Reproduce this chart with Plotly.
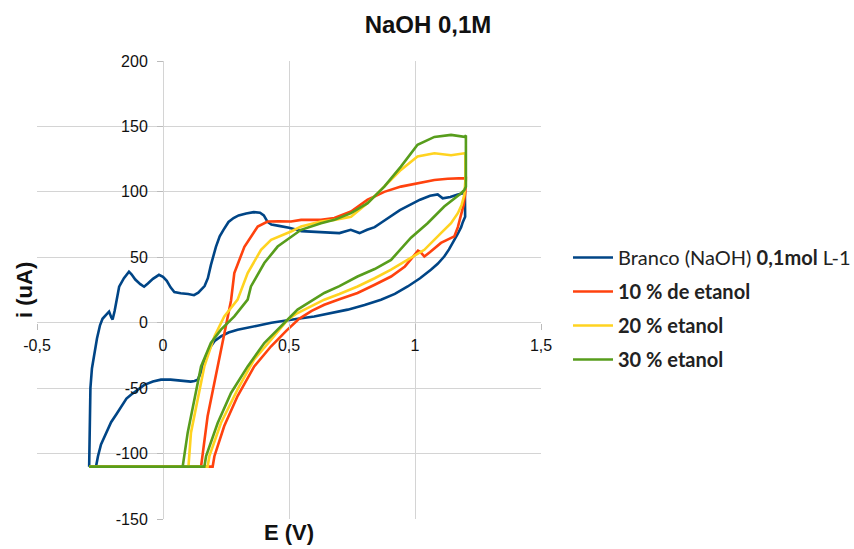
import plotly.graph_objects as go

# ---- tick labels ----
x_ticks = [-0.5, 0, 0.5, 1, 1.5]
x_labels = ["-0,5", "0", "0,5", "1", "1,5"]
y_ticks = [-150, -100, -50, 0, 50, 100, 150, 200]
y_labels = ["-150", "-100", "-50", "0", "50", "100", "150", "200"]

series_names = ["Branco (NaOH) <b>0,1mol</b> L-1", "<b>10 % de etanol</b>",
                "<b>20 % etanol</b>", "<b>30 % etanol</b>"]
series_colors = ["#004586", "#ff420e", "#ffd320", "#579d1c"]

# ---- Branco (NaOH) ----
E_branco = [-0.293, -0.291, -0.288, -0.282, -0.272, -0.262, -0.25, -0.24, -0.226, -0.214,
            -0.205, -0.2, -0.192, -0.186, -0.174, -0.155, -0.135, -0.125, -0.11, -0.09,
            -0.075, -0.06, -0.04, -0.016, 0.0, 0.015, 0.03, 0.045, 0.07, 0.1,
            0.123, 0.14, 0.155, 0.165, 0.178, 0.19, 0.21, 0.225, 0.24, 0.26,
            0.28, 0.30, 0.33, 0.36, 0.385, 0.40, 0.415, 0.43, 0.46, 0.5,
            0.55, 0.6, 0.65, 0.7, 0.745, 0.78, 0.81, 0.84, 0.87, 0.9,
            0.94, 0.98, 1.02, 1.06, 1.09, 1.11, 1.14, 1.17, 1.19, 1.198,
            1.2, 1.199, 1.19, 1.183, 1.17, 1.156, 1.135, 1.116, 1.09, 1.063,
            1.02, 0.971, 0.92, 0.865, 0.8, 0.733, 0.67, 0.6, 0.535, 0.468,
            0.43, 0.37, 0.296, 0.26, 0.23, 0.205, 0.19, 0.175, 0.164, 0.15,
            0.138, 0.125, 0.11, 0.07, 0.03, -0.008, -0.04, -0.074, -0.1, -0.127,
            -0.145, -0.167, -0.185, -0.206, -0.226, -0.246, -0.258, -0.266, -0.293]
I_branco = [-110, -80, -50, -35, -22, -12, -2, 3, 6, 8.5,
            4, 2.5, 9, 15, 27.5, 34, 39, 37, 33, 29.5,
            27.5, 30, 33.5, 36.6, 35, 32, 27, 23.5, 22.5, 22,
            21, 23, 26, 28, 34, 44, 58, 66, 71, 77,
            80, 82, 83.5, 84.5, 84, 82, 77, 75, 74, 72.5,
            70, 69.5, 69, 68.5, 71, 68.5, 71, 73, 77, 81,
            86, 90, 94, 97, 98, 95, 96, 98, 99, 100,
            90, 81, 77, 73, 68, 63, 56, 50.6, 45, 40.5,
            34, 27.7, 22, 17.6, 13.5, 10, 7.5, 4.8, 3, 1,
            0, -2.5, -5.3, -7.5, -10.5, -14, -18, -24, -30.8, -38,
            -43.5, -44.5, -45, -44, -43.5, -43.5, -45, -47.5, -51, -55,
            -58, -65, -70, -76, -84, -93, -102, -110, -110]

# ---- 10 % de etanol ----
E_10 = [-0.293, 0.151, 0.177, 0.217, 0.243, 0.257, 0.27, 0.283, 0.323, 0.376,
        0.415, 0.46, 0.508, 0.548, 0.627, 0.68, 0.746, 0.812, 0.878, 0.944,
        1.01, 1.077, 1.13, 1.17, 1.196, 1.202, 1.2, 1.193, 1.182, 1.17,
        1.156, 1.103, 1.06, 1.037, 1.022, 1.012, 0.96, 0.905, 0.84, 0.772,
        0.7, 0.64, 0.59, 0.54, 0.49, 0.429, 0.362, 0.296, 0.243, 0.204,
        0.197, -0.293]
I_10 = [-110, -110, -71.5, -33.4, -7.9, 7, 17, 38, 58, 73.5,
        77.3, 77.5, 77.3, 78.6, 78.6, 80, 85, 94, 100, 104,
        106.6, 109, 110, 110.5, 110.5, 111.5, 100, 90, 81, 73,
        66, 61, 54, 50.6, 54, 55, 43, 35.3, 29, 22.7,
        18, 13.7, 9, 3, -6, -18, -33.4, -56, -79, -102,
        -110, -110]

# ---- 20 % etanol ----
E_20 = [-0.293, 0.101, 0.111, 0.138, 0.164, 0.204, 0.243, 0.296, 0.336, 0.389,
        0.429, 0.508, 0.548, 0.627, 0.68, 0.746, 0.812, 0.878, 0.944, 1.01,
        1.077, 1.143, 1.196, 1.2, 1.2, 1.196, 1.185, 1.17, 1.143, 1.103,
        1.037, 0.97, 0.905, 0.84, 0.772, 0.7, 0.64, 0.534, 0.495, 0.429,
        0.362, 0.296, 0.23, 0.184, 0.177, -0.293]
I_20 = [-110, -110, -84, -58.8, -33.4, -10.5, 4.8, 17.6, 38, 55.7,
        63.4, 69.7, 73.5, 77.3, 78.6, 81, 91.4, 104, 116.8, 127,
        129.5, 128, 129.5, 129, 109, 98, 90, 83.7, 76, 68.5,
        55.7, 48, 40.5, 34, 27.7, 22, 17.6, 7.4, 2.3, -13,
        -28, -51, -76.6, -102, -110, -110]

# ---- 30 % etanol ----
E_30 = [-0.293, 0.078, 0.098, 0.124, 0.151, 0.19, 0.23, 0.283, 0.336, 0.349,
        0.402, 0.455, 0.508, 0.548, 0.627, 0.68, 0.746, 0.812, 0.878, 0.944,
        1.01, 1.077, 1.143, 1.17, 1.196, 1.202, 1.202, 1.196, 1.183, 1.116,
        1.05, 0.984, 0.905, 0.84, 0.772, 0.7, 0.64, 0.534, 0.468, 0.402,
        0.336, 0.27, 0.217, 0.171, 0.164, -0.293]
I_30 = [-110, -110, -84, -58.8, -33.4, -15.5, -5.3, 4.8, 17.6, 27.7,
        45.6, 58.2, 65.9, 71, 76, 78.6, 83.7, 91.4, 104, 119.3,
        136, 142, 143.5, 142.5, 142, 143, 104, 101.5, 99, 88.8,
        76, 65, 48, 41, 35.3, 28, 22.7, 10, -2.8, -15.5,
        -33.4, -53.7, -76.6, -102, -110, -110]

E_all = [E_branco, E_10, E_20, E_30]
I_all = [I_branco, I_10, I_20, I_30]

fig = go.Figure()
for k in range(4):
    fig.add_trace(go.Scatter(
        x=E_all[k], y=I_all[k], mode="lines", name=series_names[k],
        legendgroup="g%d" % k,
        line=dict(color=series_colors[k], width=2.6),
    ))

tick_font = dict(family="Liberation Sans", size=16, color="#111")
grid_col = "#d4d4d4"

fig.update_layout(
    width=854, height=549,
    margin=dict(l=37, r=313, t=61, b=30, autoexpand=False),
    plot_bgcolor="white", paper_bgcolor="white",
    showlegend=True,
    title=dict(text="<b>NaOH 0,1M</b>", xref="container", yref="container",
               x=428 / 854, xanchor="center", y=1 - 25 / 549, yanchor="middle",
               font=dict(family="Liberation Sans", size=24, color="#111")),
    xaxis=dict(range=[-0.5, 1.5], tickmode="array", tickvals=x_ticks, ticktext=x_labels,
               anchor="free", position=150 / 350, showgrid=True, gridcolor=grid_col,
               gridwidth=1, zeroline=False, showline=False, ticks="outside", ticklen=6,
               tickcolor="#bbbbbb", tickfont=tick_font, ticklabelstandoff=2),
    yaxis=dict(range=[-150, 200], tickmode="array", tickvals=y_ticks, ticktext=y_labels,
               anchor="free", position=0.25, showgrid=True, gridcolor=grid_col,
               gridwidth=1, zeroline=False, showline=False, ticks="outside", ticklen=6,
               tickcolor="#bbbbbb", tickfont=tick_font, ticklabelstandoff=6),
    legend=dict(xref="container", yref="container", x=568 / 854, y=1 - 238 / 549,
                xanchor="left", yanchor="top", traceorder="grouped", tracegroupgap=5,
                font=dict(family="Lato", size=20, color="#222"),
                bgcolor="rgba(0,0,0,0)", itemwidth=40),
    annotations=[
        dict(text="<b>E (V)</b>", xref="paper", yref="paper", x=0.5, y=-28 / 458,
             xanchor="center", yanchor="bottom", showarrow=False,
             font=dict(family="Liberation Sans", size=22, color="#111")),
        dict(text="<b>i (uA)</b>", xref="paper", yref="paper", x=(24 - 37) / 504, y=0.5,
             xanchor="center", yanchor="middle", textangle=-90, showarrow=False,
             font=dict(family="Liberation Sans", size=22, color="#111")),
    ],
)

fig.write_html("out.html")
